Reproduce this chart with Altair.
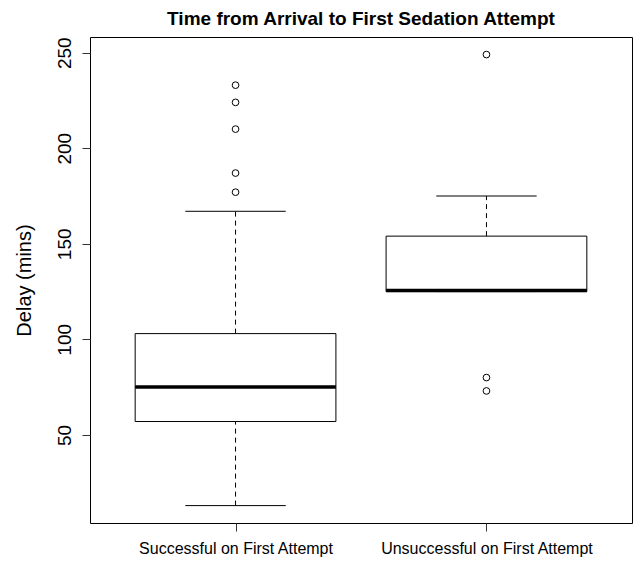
import altair as alt
import pandas as pd

# ---- data ----
categories = ["Successful on First Attempt", "Unsuccessful on First Attempt"]
positions = [1, 2]
whisker_low = [13, 125]
q1 = [57, 125]
median = [75, 125.5]
q3 = [103, 154]
whisker_high = [167, 175]

outlier_group = [1, 1, 1, 1, 1, 2, 2, 2]
outlier_value = [233, 224, 210, 187, 177, 249, 80, 73]

box_half = 0.4
cap_half = 0.2

stats = pd.DataFrame({
    "cat": categories,
    "pos": positions,
    "lo": whisker_low,
    "q1": q1,
    "med": median,
    "q3": q3,
    "hi": whisker_high,
})
stats["bl"] = stats["pos"] - box_half
stats["br"] = stats["pos"] + box_half
stats["cl"] = stats["pos"] - cap_half
stats["cr"] = stats["pos"] + cap_half

outliers = pd.DataFrame({"pos": outlier_group, "v": outlier_value})

label_expr = "datum.value == 1 ? '" + categories[0] + "' : '" + categories[1] + "'"

xscale = alt.Scale(domain=[0.42, 2.58], nice=False, zero=False)
yscale = alt.Scale(domain=[3.9, 258.2], nice=False, zero=False)

xaxis = alt.Axis(values=positions, labelExpr=label_expr, title=None, grid=False,
                 domain=False, tickSize=8, tickColor="#333333", labelFontSize=16,
                 labelPadding=9, labelColor="black", labelFont="Liberation Sans",
                 labelLimit=500)
yaxis = alt.Axis(values=[50, 100, 150, 200, 250], title="Delay (mins)", grid=False,
                 domain=False, tickSize=8, tickColor="#333333", labelFontSize=19,
                 labelAngle=-90, labelAlign="center", labelBaseline="bottom",
                 labelPadding=8, labelColor="black", labelFont="Liberation Sans",
                 titleFontSize=20, titleFont="Liberation Sans", titleFontWeight="normal",
                 titleX=-66, titleBaseline="middle", titleColor="black")

base = alt.Chart(stats)

whisk_up = base.mark_rule(color="black", strokeWidth=1, strokeDash=[5, 4]).encode(
    x=alt.X("pos:Q", scale=xscale, axis=xaxis),
    y=alt.Y("q3:Q", scale=yscale, axis=yaxis),
    y2="hi:Q",
)
whisk_dn = base.mark_rule(color="black", strokeWidth=1, strokeDash=[5, 4]).encode(
    x="pos:Q", y="lo:Q", y2="q1:Q"
)
cap_hi = base.mark_rule(color="black", strokeWidth=1).encode(
    x="cl:Q", x2="cr:Q", y="hi:Q"
)
cap_lo = base.mark_rule(color="black", strokeWidth=1).encode(
    x="cl:Q", x2="cr:Q", y="lo:Q"
)
box = base.mark_rect(fill="white", stroke="black", strokeWidth=1).encode(
    x="bl:Q", x2="br:Q", y="q1:Q", y2="q3:Q"
)
med = base.mark_rule(color="black", strokeWidth=3.5).encode(
    x="bl:Q", x2="br:Q", y="med:Q"
)
pts = alt.Chart(outliers).mark_point(shape="circle", filled=False, color="black",
                                     size=45, strokeWidth=1, opacity=1).encode(
    x="pos:Q", y="v:Q"
)

chart = alt.layer(whisk_up, whisk_dn, cap_hi, cap_lo, box, med, pts).properties(
    width=542, height=486,
    title=alt.TitleParams("Time from Arrival to First Sedation Attempt", fontSize=19,
                          font="Liberation Sans", fontWeight="bold", anchor="middle",
                          offset=8, color="black"),
    autosize=alt.AutoSizeParams(type="none"),
    padding={"left": 82, "top": 29, "right": 1, "bottom": 35},
).configure(background="white", view=alt.ViewConfig(stroke="black", strokeWidth=1))

chart.save("out.html", embed_options={"renderer": "svg", "actions": False})
